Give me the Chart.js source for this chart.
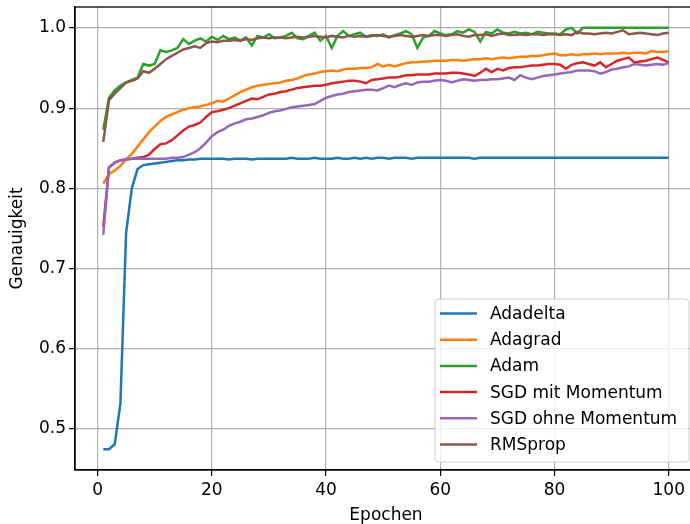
<!DOCTYPE html>
<html>
<head>
<meta charset="utf-8">
<script src="https://cdn.jsdelivr.net/npm/chart.js@4/dist/chart.umd.min.js"></script>
<style>
html,body{margin:0;padding:0;background:#fff;overflow:hidden;}
#wrap{position:relative;width:700px;height:524px;}
</style>
</head>
<body>
<div id="wrap"><canvas id="c"></canvas></div>
<script>
const epochs = Array.from({length:100},(_,i)=>i+1);
const seriesNames = ["Adadelta","Adagrad","Adam","SGD mit Momentum","SGD ohne Momentum","RMSprop"];
const seriesColors = ["#1f77b4","#ff7f0e","#2ca02c","#d62728","#9467bd","#8c564b"];
const xTickValues = [0,20,40,60,80,100];
const yTickValues = [0.5,0.6,0.7,0.8,0.9,1.0];

const adadelta = [
0.475,0.475,0.481,0.532,0.745,0.800,0.824,0.829,0.830,0.831,
0.832,0.833,0.834,0.835,0.835,0.836,0.836,0.837,0.837,0.837,
0.837,0.837,0.836,0.837,0.837,0.837,0.836,0.837,0.837,0.837,
0.837,0.837,0.837,0.838,0.837,0.837,0.837,0.838,0.837,0.837,
0.837,0.838,0.837,0.837,0.838,0.837,0.838,0.837,0.838,0.838,
0.837,0.838,0.838,0.838,0.837,0.838,0.838,0.838,0.838,0.838,
0.838,0.838,0.838,0.838,0.838,0.837,0.838,0.838,0.838,0.838,
0.838,0.838,0.838,0.838,0.838,0.838,0.838,0.838,0.838,0.838,
0.838,0.838,0.838,0.838,0.838,0.838,0.838,0.838,0.838,0.838,
0.838,0.838,0.838,0.838,0.838,0.838,0.838,0.838,0.838,0.838];

const adagrad = [
0.806,0.818,0.822,0.828,0.836,0.843,0.852,0.861,0.870,0.877,
0.884,0.889,0.892,0.895,0.898,0.900,0.901,0.902,0.904,0.906,
0.909,0.908,0.912,0.916,0.920,0.923,0.926,0.928,0.929,0.930,
0.931,0.932,0.934,0.935,0.937,0.940,0.942,0.943,0.945,0.946,
0.947,0.946,0.948,0.949,0.949,0.950,0.950,0.951,0.955,0.952,
0.954,0.952,0.954,0.956,0.957,0.957,0.958,0.958,0.959,0.959,
0.959,0.960,0.960,0.959,0.960,0.961,0.961,0.962,0.961,0.962,
0.963,0.962,0.963,0.964,0.964,0.965,0.965,0.966,0.967,0.968,
0.966,0.966,0.967,0.966,0.967,0.967,0.968,0.967,0.968,0.968,
0.968,0.969,0.968,0.969,0.969,0.968,0.971,0.970,0.970,0.971];

const adam = [
0.873,0.913,0.922,0.928,0.932,0.935,0.938,0.955,0.953,0.955,
0.972,0.970,0.972,0.975,0.986,0.980,0.984,0.987,0.983,0.989,
0.985,0.990,0.986,0.988,0.984,0.988,0.978,0.990,0.988,0.992,
0.987,0.988,0.990,0.994,0.987,0.986,0.990,0.994,0.984,0.990,
0.975,0.990,0.996,0.990,0.992,0.994,0.989,0.991,0.990,0.992,
0.988,0.991,0.993,0.996,0.992,0.975,0.988,0.990,0.996,0.993,
0.991,0.992,0.996,0.994,0.998,0.995,0.983,0.995,0.993,0.998,
0.994,0.993,0.995,0.993,0.994,0.992,0.995,0.994,0.993,0.993,
0.992,0.998,1.000,0.993,1.000,1.000,1.000,1.000,1.000,1.000,
1.000,1.000,1.000,1.000,1.000,1.000,1.000,1.000,1.000,1.000];

const sgdMit = [
0.752,0.826,0.832,0.835,0.836,0.837,0.838,0.839,0.842,0.849,
0.855,0.856,0.860,0.866,0.872,0.877,0.879,0.882,0.889,0.895,
0.896,0.898,0.900,0.903,0.906,0.909,0.912,0.911,0.914,0.917,
0.918,0.920,0.921,0.923,0.925,0.926,0.927,0.928,0.928,0.929,
0.931,0.932,0.933,0.934,0.934,0.933,0.931,0.935,0.936,0.937,
0.938,0.938,0.939,0.941,0.941,0.942,0.942,0.942,0.943,0.943,
0.943,0.944,0.944,0.943,0.942,0.940,0.944,0.949,0.945,0.949,
0.947,0.950,0.951,0.951,0.952,0.953,0.953,0.954,0.955,0.955,
0.954,0.949,0.954,0.956,0.957,0.955,0.953,0.957,0.951,0.955,
0.959,0.961,0.963,0.957,0.958,0.959,0.961,0.963,0.960,0.957];

const sgdOhne = [
0.742,0.826,0.832,0.835,0.836,0.837,0.837,0.837,0.837,0.837,
0.837,0.837,0.838,0.838,0.839,0.842,0.845,0.850,0.857,0.865,
0.870,0.873,0.878,0.881,0.883,0.886,0.887,0.889,0.891,0.894,
0.896,0.897,0.899,0.901,0.902,0.903,0.904,0.905,0.909,0.913,
0.915,0.917,0.918,0.920,0.921,0.922,0.923,0.923,0.922,0.925,
0.928,0.926,0.929,0.931,0.929,0.932,0.933,0.933,0.934,0.935,
0.934,0.932,0.934,0.936,0.935,0.934,0.935,0.935,0.936,0.936,
0.937,0.938,0.935,0.941,0.938,0.936,0.938,0.940,0.941,0.942,
0.943,0.944,0.945,0.947,0.947,0.947,0.946,0.943,0.945,0.948,
0.949,0.951,0.952,0.955,0.954,0.953,0.954,0.955,0.954,0.956];

const rmsprop = [
0.858,0.910,0.918,0.925,0.932,0.934,0.937,0.946,0.944,0.949,
0.955,0.961,0.965,0.969,0.973,0.975,0.977,0.975,0.981,0.983,
0.982,0.984,0.984,0.985,0.984,0.986,0.985,0.987,0.988,0.987,
0.988,0.988,0.987,0.988,0.989,0.988,0.989,0.990,0.989,0.988,
0.990,0.989,0.988,0.990,0.989,0.990,0.989,0.990,0.991,0.990,
0.989,0.990,0.991,0.990,0.989,0.990,0.991,0.990,0.991,0.991,
0.990,0.991,0.992,0.990,0.989,0.991,0.991,0.992,0.990,0.992,
0.993,0.991,0.991,0.992,0.991,0.992,0.992,0.991,0.992,0.992,
0.991,0.992,0.991,0.995,0.993,0.993,0.992,0.993,0.994,0.993,
0.995,0.997,0.992,0.993,0.994,0.993,0.992,0.991,0.993,0.994];

const seriesValues = [adadelta, adagrad, adam, sgdMit, sgdOhne, rmsprop];

const FONT = "'DejaVu Sans', sans-serif";
const FS = 17;

const frameAndLegend = {
  id: 'frameAndLegend',
  afterDatasetsDraw(chart) {
    const ctx = chart.ctx;
    const a = chart.chartArea;
    ctx.save();
    ctx.strokeStyle = '#000';
    ctx.lineWidth = 1.3;
    ctx.strokeRect(a.left, a.top, a.right - a.left, a.bottom - a.top);
    const bx = 435, by = 299, bw = 254, bh = 163, r = 4;
    ctx.beginPath();
    ctx.moveTo(bx + r, by);
    ctx.lineTo(bx + bw - r, by);
    ctx.quadraticCurveTo(bx + bw, by, bx + bw, by + r);
    ctx.lineTo(bx + bw, by + bh - r);
    ctx.quadraticCurveTo(bx + bw, by + bh, bx + bw - r, by + bh);
    ctx.lineTo(bx + r, by + bh);
    ctx.quadraticCurveTo(bx, by + bh, bx, by + bh - r);
    ctx.lineTo(bx, by + r);
    ctx.quadraticCurveTo(bx, by, bx + r, by);
    ctx.closePath();
    ctx.fillStyle = 'rgba(255,255,255,0.8)';
    ctx.fill();
    ctx.strokeStyle = '#cccccc';
    ctx.lineWidth = 1;
    ctx.stroke();
    ctx.font = FS + 'px ' + FONT;
    ctx.textBaseline = 'middle';
    ctx.textAlign = 'left';
    seriesNames.forEach((name, i) => {
      const y = 313.5 + i * 26.2;
      ctx.strokeStyle = seriesColors[i];
      ctx.lineWidth = 2.5;
      ctx.beginPath();
      ctx.moveTo(440, y);
      ctx.lineTo(477, y);
      ctx.stroke();
      ctx.fillStyle = '#000';
      ctx.fillText(name, 490, y + 1);
    });
    ctx.restore();
  }
};

new Chart(document.getElementById('c'), {
  type: 'line',
  data: {
    labels: epochs,
    datasets: seriesNames.map((name, i) => ({
      label: name,
      data: seriesValues[i].map((v, j) => ({x: epochs[j], y: v})),
      borderColor: seriesColors[i],
      backgroundColor: seriesColors[i],
      borderWidth: 2.5,
      pointRadius: 0,
      tension: 0,
      fill: false,
      order: seriesNames.length - i
    }))
  },
  options: {
    responsive: true,
    maintainAspectRatio: false,
    animation: false,
    devicePixelRatio: 1,
    layout: { padding: { top: 7, right: 3, left: 0, bottom: 0 } },
    plugins: { legend: { display: false }, tooltip: { enabled: false } },
    scales: {
      x: {
        type: 'linear',
        min: -3.95,
        max: 104.95,
        afterBuildTicks: s => { s.ticks = xTickValues.map(v => ({value: v})); },
        afterFit: s => { s.height = 54; s.paddingLeft = 0; s.paddingRight = 0; },
        ticks: { font: { family: FONT, size: FS }, color: '#000', padding: 4, maxRotation: 0, callback: v => String(v) },
        grid: { color: '#b0b0b0', lineWidth: 1.2, tickColor: '#000', tickLength: 6, drawTicks: true },
        border: { display: true, color: '#000', width: 1.3 },
        title: { display: true, text: 'Epochen', font: { family: FONT, size: FS }, color: '#000', padding: { top: 0, bottom: -2 } }
      },
      y: {
        type: 'linear',
        min: 0.449,
        max: 1.026,
        afterBuildTicks: s => { s.ticks = yTickValues.map(v => ({value: v})); },
        afterFit: s => { s.width = 75; s.paddingTop = 0; s.paddingBottom = 0; },
        ticks: { font: { family: FONT, size: FS }, color: '#000', padding: 3, callback: v => Number(v).toFixed(1) },
        grid: { color: '#b0b0b0', lineWidth: 1.2, tickColor: '#000', tickLength: 6, drawTicks: true },
        border: { display: true, color: '#000', width: 1.3 },
        title: { display: true, text: 'Genauigkeit', font: { family: FONT, size: FS }, color: '#000', padding: { top: 7, bottom: 0 } }
      }
    }
  },
  plugins: [frameAndLegend]
});
</script>
</body>
</html>
